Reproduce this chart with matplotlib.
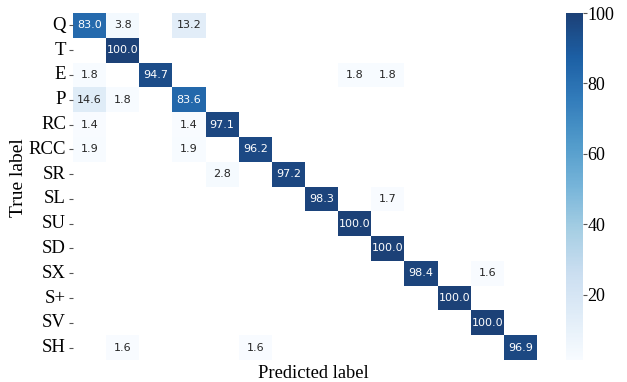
import numpy as np
import matplotlib
matplotlib.use("Agg")
import matplotlib.pyplot as plt
from matplotlib.colors import ListedColormap
import seaborn as sns

labels = ["Q", "T", "E", "P", "RC", "RCC", "SR", "SL", "SU", "SD", "SX", "S+", "SV", "SH"]

# row = true label, non-zero cells as (column, value)
rows = [
    [(0, 83.0), (1, 3.8), (3, 13.2)],
    [(1, 100.0)],
    [(0, 1.8), (2, 94.7), (8, 1.8), (9, 1.8)],
    [(0, 14.6), (1, 1.8), (3, 83.6)],
    [(0, 1.4), (3, 1.4), (4, 97.1)],
    [(0, 1.9), (3, 1.9), (5, 96.2)],
    [(4, 2.8), (6, 97.2)],
    [(7, 98.3), (9, 1.7)],
    [(8, 100.0)],
    [(9, 100.0)],
    [(10, 98.4), (12, 1.6)],
    [(11, 100.0)],
    [(12, 100.0)],
    [(1, 1.6), (5, 1.6), (13, 96.9)],
]

cm = np.zeros((len(labels), len(labels)))
for i, r in enumerate(rows):
    for j, v in r:
        cm[i, j] = v

# Blues, slightly washed out toward white
base = plt.get_cmap("Blues")(np.linspace(0, 1, 256))
base[:, :3] = 0.92 * base[:, :3] + 0.08
cmap = ListedColormap(base)

fig = plt.figure(figsize=(6.27, 3.82), dpi=100)
ax = fig.add_axes([73 / 627, 1 - 360 / 382, 464 / 627, 347 / 382])
cax = fig.add_axes([566 / 627, 1 - 360 / 382, 17 / 627, 347 / 382])

sns.heatmap(cm, mask=(cm == 0), cmap=cmap, annot=True, fmt=".1f",
            annot_kws={"size": 8}, linewidths=0,
            xticklabels=False, yticklabels=labels, ax=ax, cbar_ax=cax,
            vmin=cm[cm > 0].min(), vmax=100)

serif = "Liberation Serif"
ax.set_yticklabels(labels, rotation=0, fontfamily=serif, fontsize=13.5)
ax.tick_params(axis="y", length=3, width=0.8, color="#555555", pad=2)
ax.set_xticks([])
ax.set_ylabel("True label", fontfamily=serif, fontsize=14)
ax.yaxis.set_label_coords(-0.1, 0.525)
ax.set_xlabel("Predicted label", fontfamily=serif, fontsize=13.3, labelpad=2)
ax.xaxis.set_label_coords(0.517, -0.015)
ax.xaxis.label.set_va("top")

cax.set_yticks([20, 40, 60, 80, 100])
cax.set_yticklabels(["20", "40", "60", "80", "100"], fontfamily=serif, fontsize=13)
cax.tick_params(length=3, width=0.8, color="#555555", pad=0)
for s in cax.spines.values():
    s.set_visible(False)

fig.savefig("out.png", dpi=100)
